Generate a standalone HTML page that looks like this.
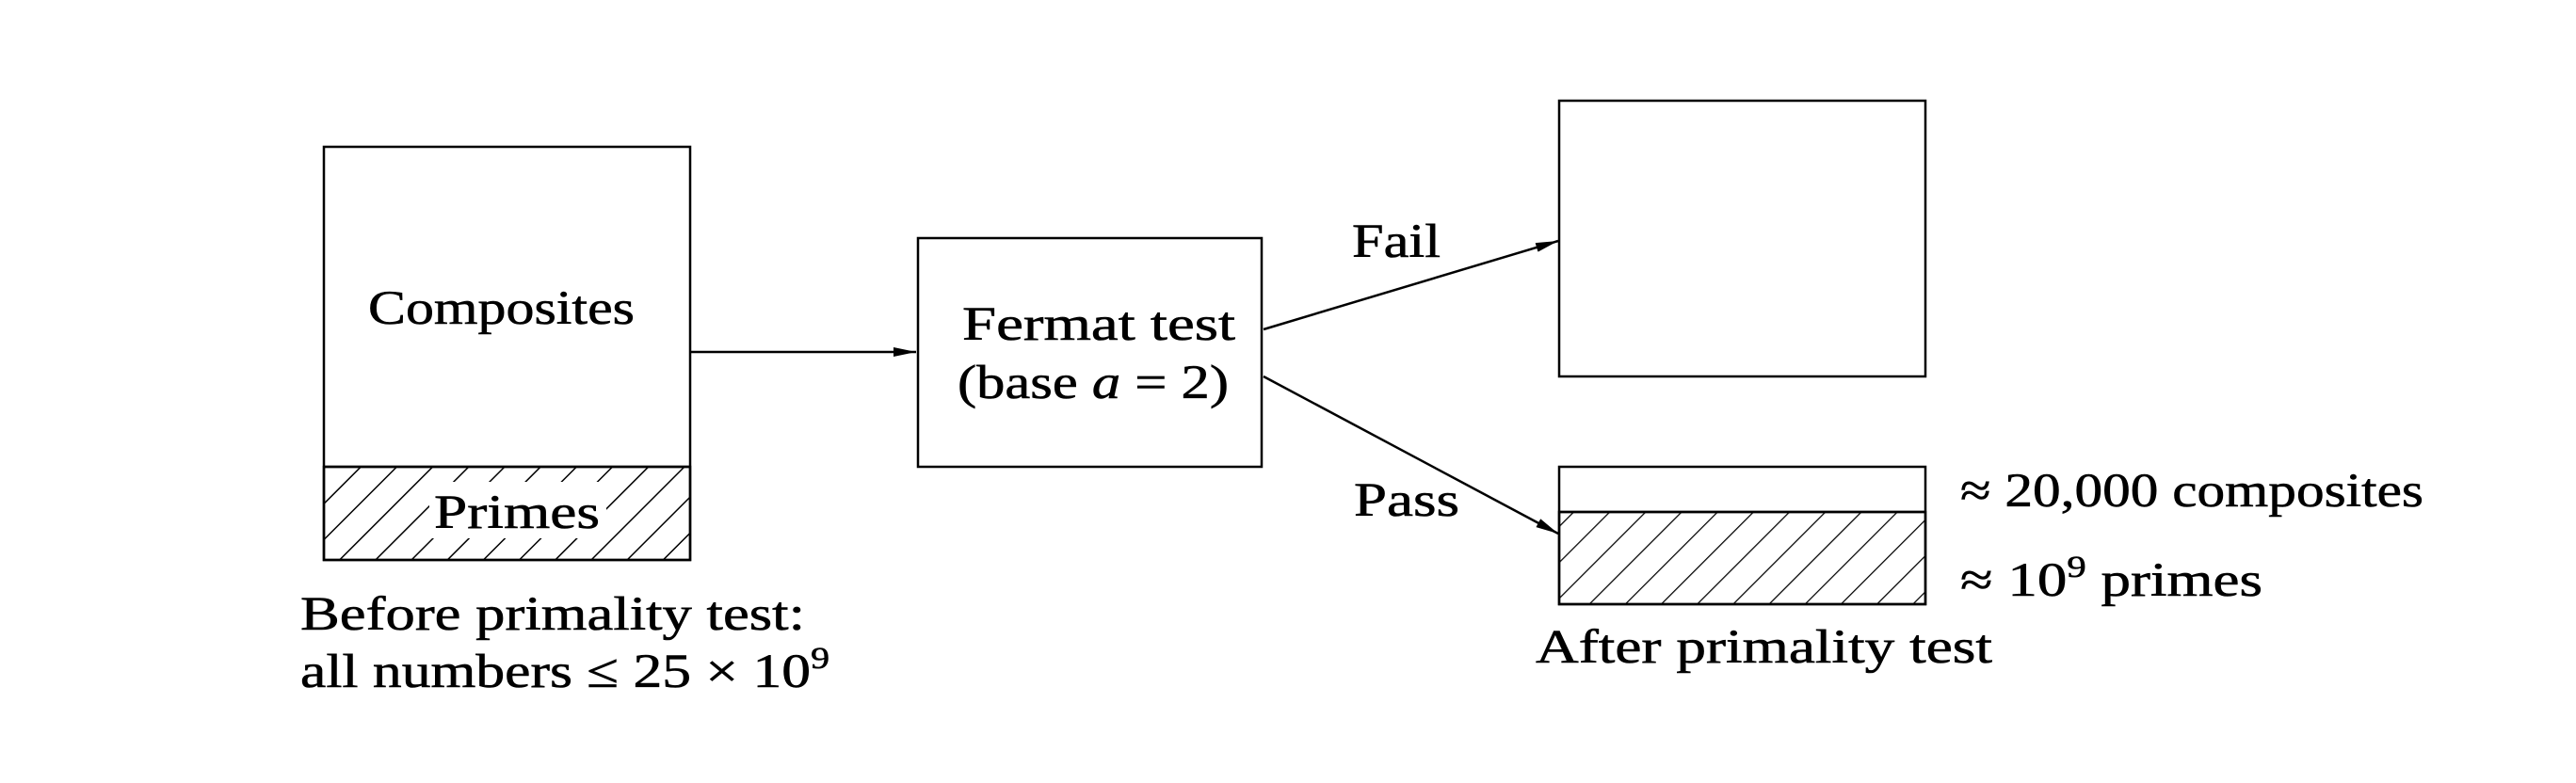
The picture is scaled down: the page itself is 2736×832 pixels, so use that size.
<!DOCTYPE html>
<html><head><meta charset="utf-8"><style>
html,body{margin:0;padding:0;background:#fff;}
svg{display:block;}
text{font-family:"Liberation Serif",serif;fill:#000;}
</style></head><body>
<svg width="2736" height="832" viewBox="0 0 2736 832" xmlns="http://www.w3.org/2000/svg">
<defs>
<pattern id="hatchL" patternUnits="userSpaceOnUse" width="27" height="27" patternTransform="rotate(45)">
<line x1="0" y1="0" x2="0" y2="27" stroke="#000" stroke-width="3"/>
</pattern>
<pattern id="hatchR" patternUnits="userSpaceOnUse" width="27" height="27" patternTransform="rotate(45)">
<line x1="0" y1="0" x2="0" y2="27" stroke="#000" stroke-width="2.5"/>
</pattern>
<marker id="arr" markerWidth="24" markerHeight="10" refX="24" refY="5" orient="auto" markerUnits="userSpaceOnUse">
<path d="M0,0 L24,5 L0,10 Z" fill="#000"/>
</marker>
</defs>
<g stroke="#000" stroke-width="2.5" fill="none">
<rect x="344" y="156" width="389" height="439" fill="#fff"/>
<rect x="344" y="496" width="389" height="99" fill="url(#hatchL)"/>
<line x1="344" y1="496" x2="733" y2="496"/>
<rect x="975" y="253" width="365" height="243" fill="#fff"/>
<rect x="1656" y="107" width="389" height="293" fill="#fff"/>
<rect x="1656" y="496" width="389" height="146" fill="#fff"/>
<rect x="1656" y="544" width="389" height="98" fill="url(#hatchR)"/>
<line x1="1656" y1="544" x2="2045" y2="544"/>
<line x1="733" y1="374" x2="973" y2="374" marker-end="url(#arr)"/>
<line x1="1342" y1="350" x2="1655" y2="256" marker-end="url(#arr)"/>
<line x1="1342" y1="400" x2="1655" y2="567" marker-end="url(#arr)"/>
</g>
<rect x="456" y="512" width="188" height="60" fill="#fff"/>
<g font-size="51" stroke="#000" stroke-width="0.6">
<text x="391" y="344" textLength="283" lengthAdjust="spacingAndGlyphs">Composites</text>
<text x="461" y="561" textLength="176" lengthAdjust="spacingAndGlyphs">Primes</text>
<text x="1022" y="361" textLength="290" lengthAdjust="spacingAndGlyphs">Fermat test</text>
<text x="1017" y="423" textLength="288" lengthAdjust="spacingAndGlyphs">(base <tspan font-style="italic">a</tspan> = 2)</text>
<text x="1436" y="273" textLength="94" lengthAdjust="spacingAndGlyphs">Fail</text>
<text x="1438" y="548" textLength="112" lengthAdjust="spacingAndGlyphs">Pass</text>
<text x="2082" y="538" textLength="492" lengthAdjust="spacingAndGlyphs">≈ 20,000 composites</text>
<text x="2082" y="633" textLength="321" lengthAdjust="spacingAndGlyphs">≈ 10<tspan dy="-20" font-size="33">9</tspan><tspan dy="20"> primes</tspan></text>
<text x="1631" y="704" textLength="485" lengthAdjust="spacingAndGlyphs">After primality test</text>
<text x="319" y="669" textLength="536" lengthAdjust="spacingAndGlyphs">Before primality test:</text>
<text x="319" y="730" textLength="562" lengthAdjust="spacingAndGlyphs">all numbers ≤ 25 × 10<tspan dy="-20" font-size="33">9</tspan></text>
</g>
</svg>
</body></html>
